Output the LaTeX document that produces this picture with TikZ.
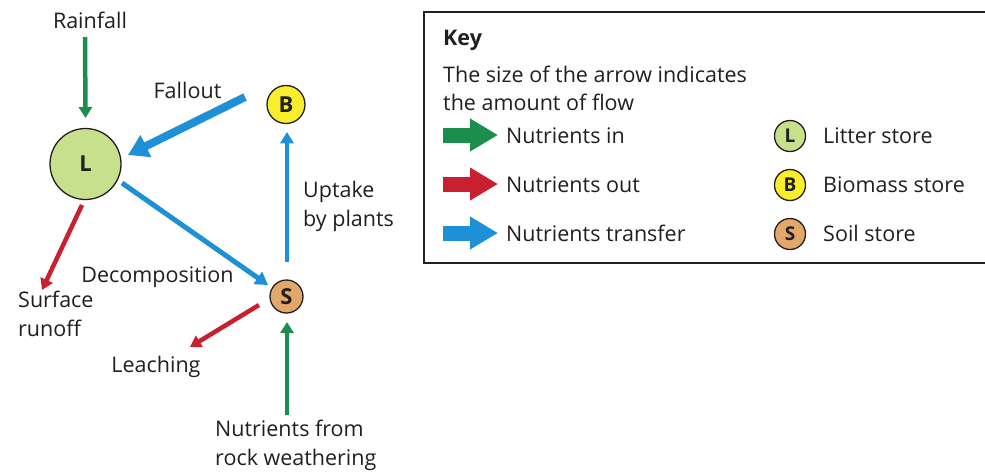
\documentclass[tikz,border=0pt]{standalone}
\usepackage{fontspec}
\setmainfont{Open Sans}
\usetikzlibrary{arrows.meta,calc}
\definecolor{ingreen}{HTML}{1B8E4E}
\definecolor{outred}{HTML}{C8202F}
\definecolor{trblue}{HTML}{1E90D8}
\definecolor{litfill}{HTML}{C6E08C}
\definecolor{biofill}{HTML}{F8EE2C}
\definecolor{soilfill}{HTML}{E2A86A}
\definecolor{txt}{HTML}{231F20}
\begin{document}
\begin{tikzpicture}[x=1pt,y=-1pt,
  lbl/.style={font=\fontsize{21.5}{29}\selectfont, text=txt, inner sep=0pt, align=left},
  store/.style={circle, draw=txt, line width=1.3pt, inner sep=0pt, text=txt},
  bigstore/.style={store, font=\fontsize{22}{22}\selectfont\bfseries},
  keystore/.style={store, minimum size=31pt, font=\fontsize{19}{19}\selectfont\bfseries},
  keyarrow/.style={line width=15pt, -{Triangle[length=28pt,width=31pt]}},
  flowin/.style={ingreen, line width=4.5pt, -{Triangle[length=11pt,width=13pt]}},
  flowout/.style={outred, line width=4.5pt, -{Triangle[length=11pt,width=13pt]}},
  flowtr/.style={trblue, line width=#1, -{Triangle[length=2.5*#1,width=2.9*#1]}},
]
\useasboundingbox (0,0) rectangle (985,472);
\fill[white] (0,0) rectangle (985,472);

% stores
\node[bigstore, fill=litfill, minimum size=71pt] (L) at (85.5,164) {L};
\node[bigstore, fill=biofill, minimum size=38pt] (B) at (286,104.5) {B};
\node[bigstore, fill=soilfill, minimum size=33pt] (S) at (286.5,296.5) {S};

% labels
\node[lbl, anchor=base] (rain) at (90,28) {Rainfall};
\node[lbl, anchor=base] (fallout) at (187.5,98) {Fallout};
\node[lbl, anchor=north west] (uptake) at (303,181) {Uptake\\by plants};
\node[lbl, anchor=base] (decomp) at (157.5,282) {Decomposition};
\node[lbl, anchor=north west] (runoff) at (18,291) {Surface\\runoff};
\node[lbl, anchor=base] (leach) at (156,372) {Leaching};
\node[lbl, anchor=north west] (rock) at (215,420) {Nutrients from\\rock weathering};

% free ends
\coordinate (rainS) at (85,37);
\coordinate (runoffE) at (42,290);
\coordinate (leachE) at (190,347);
\coordinate (rockS) at (287,415);

% flows
\draw[flowin] (rainS) -- ($(L)+(0,-46)$);
\draw[flowtr=8pt] ($(B)+(-41,-7.5)$) -- ($(L)+(42.5,-9)$);
\draw[flowtr=5pt] ($(L)+(36.5,19)$) -- ($(S)+(-18.5,-11.5)$);
\draw[flowtr=4.5pt] ($(S)+(0.5,-34.5)$) -- ($(B)+(1,27.5)$);
\draw[flowout] ($(L)+(-3.5,41)$) -- (runoffE);
\draw[flowout] ($(S)+(-27.5,8.5)$) -- (leachE);
\draw[flowin] (rockS) -- ($(S)+(0.5,25.5)$);

% key box
\draw[txt, line width=1.5pt] (990,12) -| (424,263) -- (990,263);
\node[lbl, font=\fontsize{21.5}{29}\selectfont\bfseries, anchor=base west] (keyt) at (443,45) {Key};
\node[lbl, anchor=base west] (keyd) at (443,82) {The size of the arrow indicates};
\node[lbl, anchor=base west] (keyd2) at (443,110) {the amount of flow};

\coordinate (ka1) at (443,135);
\coordinate (kb1) at (498,135);
\coordinate (ka2) at (443,184);
\coordinate (kb2) at (498,184);
\coordinate (ka3) at (443,233);
\coordinate (kb3) at (498,233);
\draw[keyarrow, ingreen] (ka1) -- (kb1);
\draw[keyarrow, outred] (ka2) -- (kb2);
\draw[keyarrow, trblue] (ka3) -- (kb3);
\node[lbl, anchor=base west] (kin) at (506,143) {Nutrients in};
\node[lbl, anchor=base west] (kout) at (506,192) {Nutrients out};
\node[lbl, anchor=base west] (ktr) at (506,241) {Nutrients transfer};

\node[keystore, fill=litfill] (kL) at (790,136) {L};
\node[keystore, fill=biofill] (kB) at (790,185) {B};
\node[keystore, fill=soilfill] (kS) at (790,234) {S};
\node[lbl, anchor=base west] (klit) at (823,143) {Litter store};
\node[lbl, anchor=base west] (kbio) at (823,192) {Biomass store};
\node[lbl, anchor=base west] (ksoil) at (823,241) {Soil store};
\end{tikzpicture}
\end{document}
